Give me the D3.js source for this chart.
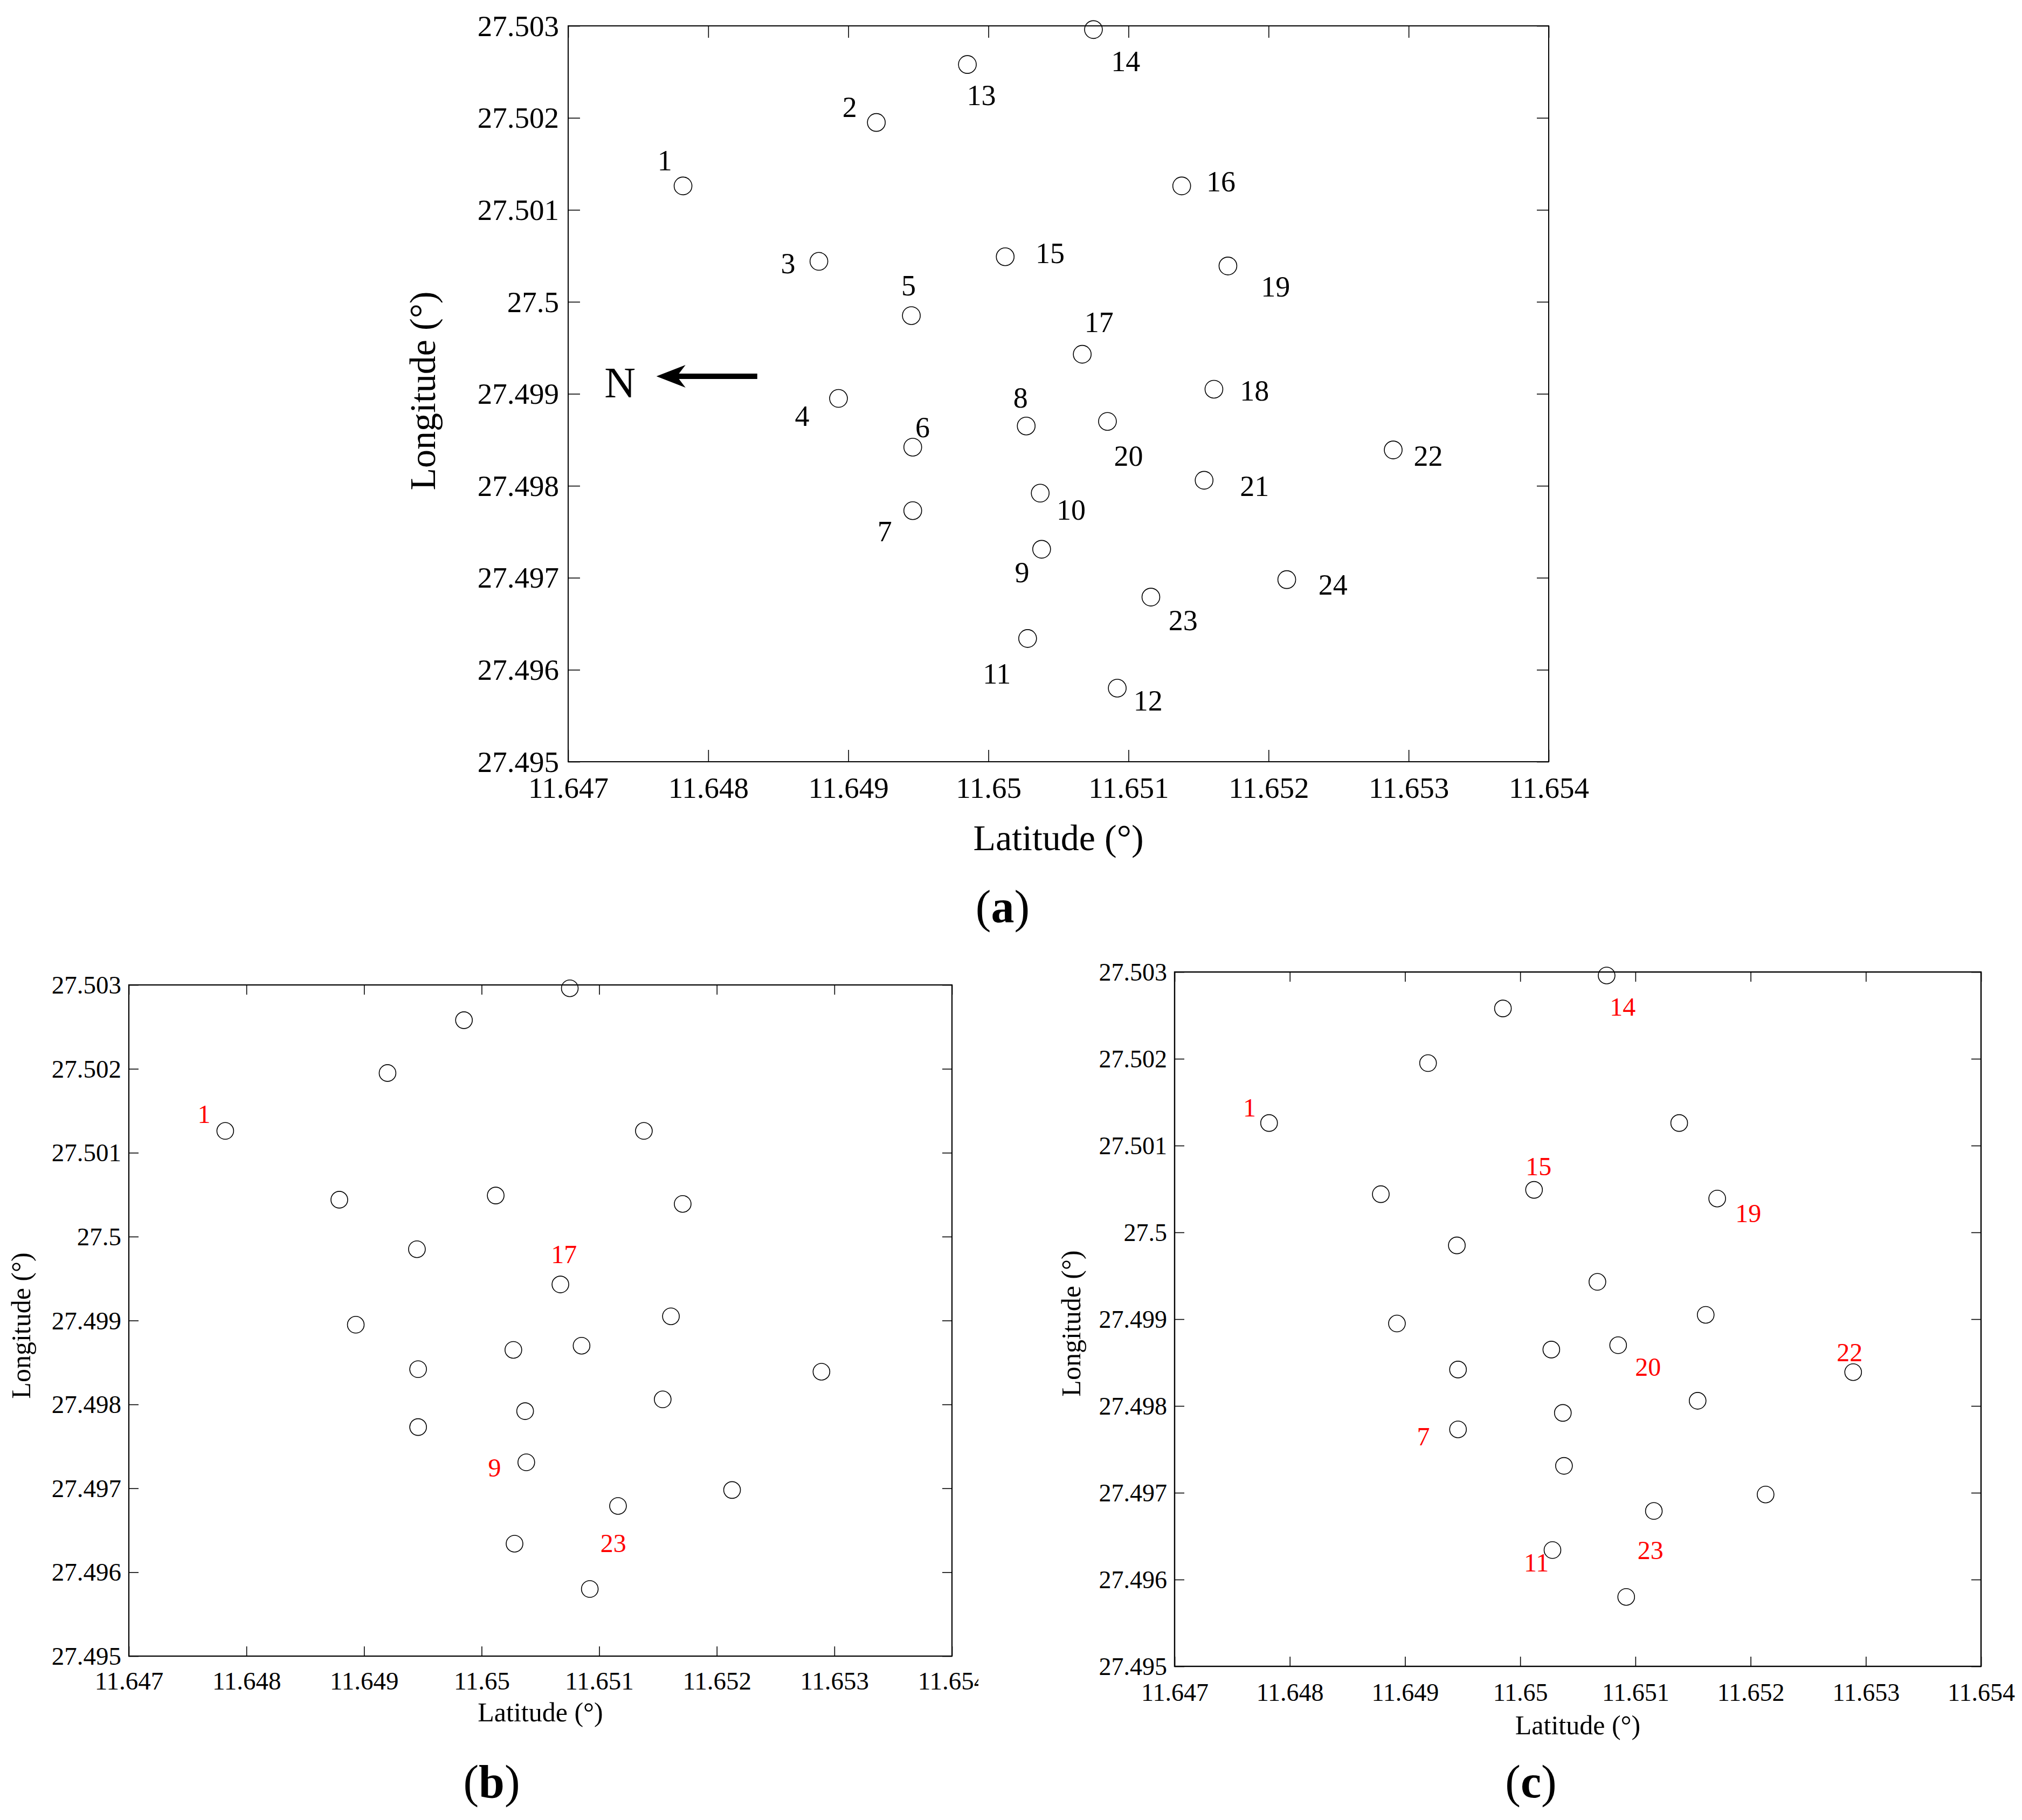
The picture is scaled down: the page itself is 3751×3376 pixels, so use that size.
<!DOCTYPE html>
<html>
<head>
<meta charset="utf-8">
<script src="https://cdn.jsdelivr.net/npm/d3@7"></script>
<style>
  html, body { margin: 0; padding: 0; background: #fff; }
  svg { display: block; }
  text { font-family: "Liberation Serif", "DejaVu Serif", serif; fill: #000; }
</style>
</head>
<body>
<script>
// ---------------- DATA ----------------
const xTicks = [11.647, 11.648, 11.649, 11.650, 11.651, 11.652, 11.653, 11.654];
const yTicks = [27.495, 27.496, 27.497, 27.498, 27.499, 27.500, 27.501, 27.502, 27.503];

const nodeIds = [1,2,3,4,5,6,7,8,9,10,11,12,13,14,15,16,17,18,19,20,21,22,23,24];
const nodeLat = [11.64782, 11.64920, 11.64879, 11.64893, 11.64945, 11.64946, 11.64946, 11.65027,
                 11.65038, 11.65037, 11.65028, 11.65092, 11.64985, 11.65075, 11.65012, 11.65138,
                 11.65067, 11.65161, 11.65171, 11.65085, 11.65154, 11.65289, 11.65116, 11.65213];
const nodeLon = [27.50126, 27.50195, 27.50044, 27.49895, 27.49985, 27.49842, 27.49773, 27.49865,
                 27.49731, 27.49792, 27.49634, 27.49580, 27.50258, 27.50296, 27.50049, 27.50126,
                 27.49943, 27.49905, 27.50039, 27.49870, 27.49806, 27.49839, 27.49679, 27.49698];

// label anchors (data units) for panel (a)
const labelLatA = [11.64769, 11.64901, 11.64857, 11.64867, 11.64943, 11.64953, 11.64926, 11.65023,
                   11.65024, 11.65059, 11.65006, 11.65114, 11.64995, 11.65098, 11.65044, 11.65166,
                   11.65079, 11.65190, 11.65205, 11.65100, 11.65190, 11.65314, 11.65139, 11.65246];
const labelLonA = [27.50154, 27.50212, 27.50042, 27.49876, 27.50018, 27.49864, 27.49751, 27.49896,
                   27.49706, 27.49774, 27.49596, 27.49567, 27.50225, 27.50262, 27.50053, 27.50131,
                   27.49978, 27.49904, 27.50017, 27.49833, 27.49800, 27.49833, 27.49654, 27.49693];

// highlighted nodes, panel (b)
const idsB = [1, 17, 9, 23];
const labelLatB = [11.64764, 11.65070, 11.65011, 11.65112];
const labelLonB = [27.50146, 27.49979, 27.49725, 27.49635];

// highlighted nodes, panel (c)
const idsC = [14, 1, 15, 19, 22, 20, 7, 11, 23];
const labelLatC = [11.65089, 11.64765, 11.65016, 11.65198, 11.65286, 11.65111, 11.64916, 11.65014, 11.65113];
const labelLonC = [27.50260, 27.50144, 27.50076, 27.50022, 27.49862, 27.49845, 27.49765, 27.49620, 27.49634];

// north arrow annotation (data units)
const northArrowLat = [11.64835, 11.64763];   // tail, tip
const northArrowLon = 27.49919;
const northLabelLat = 11.64737;
const northLabelLon = 27.49896;

const xLabel = "Latitude (°)";
const yLabel = "Longitude (°)";

// ---------------- LAYOUT ----------------
const W = 3751, H = 3376;
const svg = d3.select("body").append("svg").attr("width", W).attr("height", H);
svg.append("rect").attr("width", W).attr("height", H).attr("fill", "#fff");

const panels = [
  { key: "a", left: 1054, top: 48, right: 2873, bottom: 1413, tickFont: 55, tickLen: 22,
    xLabBase: 67, yLabGap: 17, titleFont: 68, xTitleBase: 1577, yTitleX: 807, yTitleY: 725,
    r: 16.5, lineW: 2, tagX: 1860, tagY: 1711, clipRight: null },
  { key: "b", left: 239, top: 1827, right: 1766, bottom: 3072, tickFont: 47, tickLen: 18,
    xLabBase: 62, yLabGap: 14, titleFont: 50, xTitleBase: 3193, yTitleX: 56, yTitleY: 2459,
    r: 15.5, lineW: 2.2, tagX: 912, tagY: 3334, clipRight: 1815 },
  { key: "c", left: 2179, top: 1803, right: 3675, bottom: 3091, tickFont: 46, tickLen: 18,
    xLabBase: 64, yLabGap: 14, titleFont: 50, xTitleBase: 3217, yTitleX: 2004, yTitleY: 2455,
    r: 15.5, lineW: 2.4, tagX: 2840, tagY: 3334, clipRight: null }
];

const fmt = v => String(+v.toFixed(3));

const defs = svg.append("defs");

panels.forEach(p => {
  const x = d3.scaleLinear().domain([xTicks[0], xTicks[xTicks.length - 1]]).range([p.left, p.right]);
  const y = d3.scaleLinear().domain([yTicks[0], yTicks[yTicks.length - 1]]).range([p.bottom, p.top]);

  let g = svg.append("g").attr("class", "panel-" + p.key);
  if (p.clipRight) {
    defs.append("clipPath").attr("id", "clip-" + p.key)
      .append("rect").attr("x", 0).attr("y", p.top - 200).attr("width", p.clipRight).attr("height", 1800);
    g.attr("clip-path", "url(#clip-" + p.key + ")");
  }

  // axes (inward ticks)
  const gx = g.append("g").attr("transform", `translate(0,${p.bottom})`)
    .call(d3.axisBottom(x).tickValues(xTicks).tickSize(-p.tickLen).tickFormat(fmt));
  gx.selectAll("text").attr("y", p.xLabBase).attr("dy", null);
  const gy = g.append("g").attr("transform", `translate(${p.left},0)`)
    .call(d3.axisLeft(y).tickValues(yTicks).tickSize(-p.tickLen).tickPadding(p.yLabGap).tickFormat(fmt));
  gy.selectAll("text").attr("dy", "0.33em");
  const gt = g.append("g").attr("transform", `translate(0,${p.top})`)
    .call(d3.axisTop(x).tickValues(xTicks).tickSize(-p.tickLen).tickFormat(""));
  const gr = g.append("g").attr("transform", `translate(${p.right},0)`)
    .call(d3.axisRight(y).tickValues(yTicks).tickSize(-p.tickLen).tickFormat(""));
  [gx, gy, gt, gr].forEach(a => {
    a.select(".domain").remove();
    a.selectAll("line").attr("stroke", "#000").attr("stroke-width", 1.6);
    a.selectAll("text").attr("font-size", p.tickFont).attr("fill", "#000")
      .style("font-family", '"Liberation Serif", "DejaVu Serif", serif');
    a.attr("font-size", null).attr("font-family", null);
  });

  // frame
  g.append("rect").attr("x", p.left).attr("y", p.top)
    .attr("width", p.right - p.left).attr("height", p.bottom - p.top)
    .attr("fill", "none").attr("stroke", "#000").attr("stroke-width", p.lineW);

  // axis titles
  g.append("text").attr("x", (p.left + p.right) / 2).attr("y", p.xTitleBase)
    .attr("text-anchor", "middle").attr("font-size", p.titleFont).text(xLabel);
  g.append("text").attr("transform", `translate(${p.yTitleX},${p.yTitleY}) rotate(-90)`)
    .attr("text-anchor", "middle").attr("font-size", p.titleFont).text(yLabel);

  // nodes
  g.append("g").selectAll("circle").data(nodeIds).join("circle")
    .attr("cx", (d, i) => x(nodeLat[i])).attr("cy", (d, i) => y(nodeLon[i]))
    .attr("r", p.r).attr("fill", "none").attr("stroke", "#000").attr("stroke-width", 1.6);

  // labels
  if (p.key === "a") {
    g.append("g").selectAll("text").data(nodeIds).join("text")
      .attr("x", (d, i) => x(labelLatA[i])).attr("y", (d, i) => y(labelLonA[i]))
      .attr("dy", "0.35em").attr("text-anchor", "middle").attr("font-size", 54)
      .text(d => d);

    // north arrow
    const ax0 = x(northArrowLat[0]), ax1 = x(northArrowLat[1]), ay = y(northArrowLon);
    g.append("line").attr("x1", ax0).attr("y1", ay).attr("x2", ax1 + 36).attr("y2", ay)
      .attr("stroke", "#000").attr("stroke-width", 10);
    g.append("path")
      .attr("d", `M${ax1},${ay} L${ax1 + 54},${ay - 21} L${ax1 + 38},${ay} L${ax1 + 54},${ay + 21} Z`)
      .attr("fill", "#000");
    g.append("text").attr("x", x(northLabelLat)).attr("y", y(northLabelLon))
      .attr("text-anchor", "middle").attr("font-size", 80).text("N");
  } else {
    const ids = p.key === "b" ? idsB : idsC;
    const lx = p.key === "b" ? labelLatB : labelLatC;
    const ly = p.key === "b" ? labelLonB : labelLonC;
    g.append("g").selectAll("text").data(ids).join("text")
      .attr("x", (d, i) => x(lx[i])).attr("y", (d, i) => y(ly[i]))
      .attr("dy", "0.35em").attr("text-anchor", "middle").attr("font-size", 48)
      .style("fill", "#ff0000").text(d => d);
  }

  // panel tag
  const tag = svg.append("text").attr("x", p.tagX).attr("y", p.tagY)
    .attr("text-anchor", "middle").attr("font-size", 86);
  tag.append("tspan").text("(");
  tag.append("tspan").attr("font-weight", "bold").text(p.key);
  tag.append("tspan").text(")");
});
</script>
</body>
</html>
